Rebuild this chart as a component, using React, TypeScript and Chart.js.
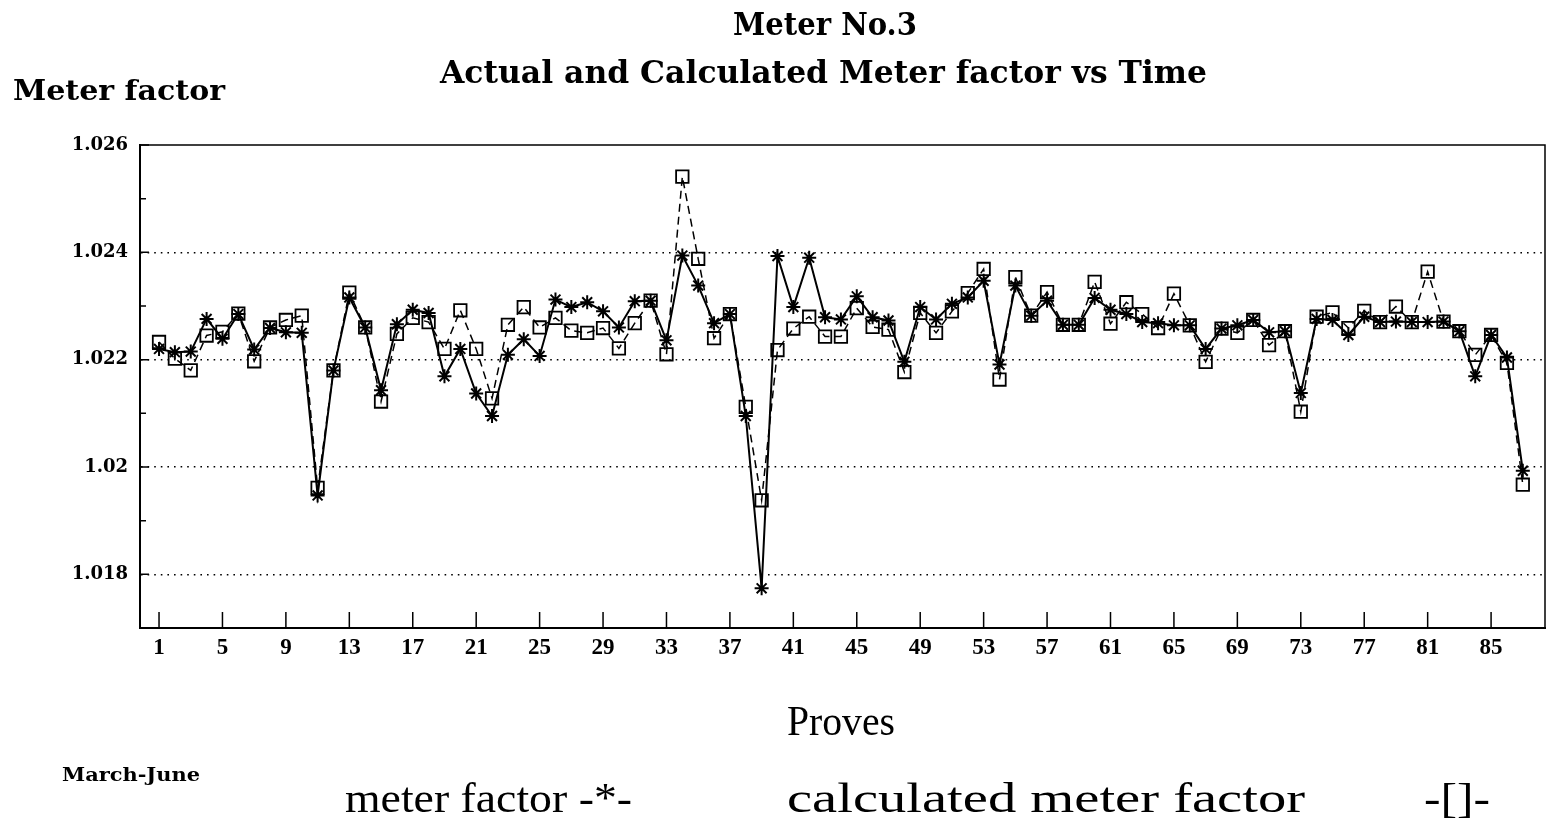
import React, { useEffect, useLayoutEffect, useRef } from "react";
import { Chart, registerables } from "chart.js";

Chart.register(...registerables);

// ---- data ----
const proves: number[] = Array.from({ length: 87 }, (_, i) => i + 1);

const meterFactor: number[] = [
  1.0222, 1.02214, 1.02215, 1.02276, 1.02239, 1.02285, 1.02219, 1.02259, 1.02251, 1.0225,
  1.01947, 1.0218, 1.02316, 1.0226, 1.02143, 1.02266, 1.02293, 1.02287, 1.02169, 1.0222,
  1.02137, 1.02095, 1.02209, 1.02238, 1.02207, 1.02312, 1.02298, 1.02307, 1.0229, 1.0226,
  1.02309, 1.0231, 1.02236, 1.02394, 1.02338, 1.02268, 1.02285, 1.02095, 1.01774, 1.02393,
  1.02298, 1.0239, 1.02279, 1.02275, 1.02318, 1.02279, 1.02273, 1.02196, 1.02298, 1.02275,
  1.02304, 1.02316, 1.02347, 1.02191, 1.02338, 1.02282, 1.0231, 1.02265, 1.02265, 1.02315,
  1.02293, 1.02285, 1.0227, 1.02268, 1.02264, 1.02264, 1.0222, 1.02258, 1.02264, 1.02274,
  1.02251, 1.02253, 1.02138, 1.02276, 1.02274, 1.02246, 1.0228, 1.0227, 1.02271, 1.0227,
  1.0227, 1.02271, 1.02253, 1.02169, 1.02246, 1.02204, 1.01993,
];

const calculatedFactor: number[] = [
  1.02233, 1.02202, 1.0218, 1.02245, 1.02252, 1.02286, 1.02197, 1.0226, 1.02274, 1.02282,
  1.01961, 1.0218, 1.02325, 1.0226, 1.02122, 1.02248, 1.02278, 1.0227, 1.0222, 1.02292,
  1.0222, 1.02128, 1.02265, 1.02298, 1.0226, 1.02278, 1.02254, 1.0225, 1.02259, 1.02221,
  1.02268, 1.0231, 1.0221, 1.02541, 1.02388, 1.0224, 1.02285, 1.02112, 1.01938, 1.02218,
  1.02258, 1.0228, 1.02243, 1.02243, 1.02296, 1.02261, 1.02256, 1.02177, 1.02287, 1.0225,
  1.0229, 1.02324, 1.02369, 1.02163, 1.02354, 1.02282, 1.02326, 1.02265, 1.02265, 1.02345,
  1.02267, 1.02307, 1.02285, 1.02259, 1.02323, 1.02264, 1.02196, 1.02258, 1.0225, 1.02274,
  1.02227, 1.02253, 1.02103, 1.0228, 1.02288, 1.02259, 1.02291, 1.0227, 1.02299, 1.0227,
  1.02364, 1.02271, 1.02253, 1.02209, 1.02246, 1.02194, 1.01967,
];

const xTickValues: number[] = [1, 5, 9, 13, 17, 21, 25, 29, 33, 37, 41, 45, 49, 53, 57, 61, 65, 69, 73, 77, 81, 85];
const yTickValues: number[] = [1.018, 1.02, 1.022, 1.024, 1.026];
const yMinorTicks: number[] = [1.019, 1.021, 1.023, 1.025];

const titleText = "Meter No.3";
const subtitleText = "Actual and Calculated Meter factor vs Time";
const yAxisTitle = "Meter factor";
const xAxisTitle = "Proves";
const periodText = "March-June";
const legendMeter = "meter factor -*-";
const legendCalc = "calculated meter factor  -[]-";

// ---- helpers ----
type FitProps = {
  text: string;
  left: number;
  baseline: number;
  width: number;
  size: number;
  family: string;
  weight?: string | number;
  ascent: number;
};

function FitText({ text, left, baseline, width, size, family, weight, ascent }: FitProps) {
  const ref = useRef<HTMLDivElement>(null);
  useLayoutEffect(() => {
    const fit = () => {
      const el = ref.current;
      if (!el) return;
      el.style.transform = "none";
      const w = el.getBoundingClientRect().width;
      if (w > 0) el.style.transform = `scaleX(${width / w})`;
    };
    fit();
    if ((document as any).fonts && (document as any).fonts.ready) {
      (document as any).fonts.ready.then(fit);
    }
  }, [text, width, size, family, weight]);
  return (
    <div
      ref={ref}
      style={{
        position: "absolute",
        left,
        top: baseline - ascent * size,
        fontSize: size,
        lineHeight: 1,
        fontFamily: family,
        fontWeight: weight as any,
        whiteSpace: "pre",
        transformOrigin: "left top",
        color: "#000",
      }}
    >
      {text}
    </div>
  );
}

const DEJAVU = "'DejaVu Serif', serif";
const LIBSERIF = "'Liberation Serif', serif";
const K_DEJAVU = 0.846;
const K_LIB = 0.8375;

const framePlugin = {
  id: "frameAndTicks",
  afterDatasetsDraw(chart: any) {
    const { ctx, chartArea } = chart;
    const { left, right, top, bottom } = chartArea;
    const xs = chart.scales.x;
    const ys = chart.scales.y;
    ctx.save();
    ctx.strokeStyle = "#000";
    ctx.setLineDash([]);
    ctx.lineWidth = 1.5;
    ctx.beginPath();
    ctx.moveTo(left, top);
    ctx.lineTo(right, top);
    ctx.lineTo(right, bottom);
    ctx.stroke();
    ctx.beginPath();
    yMinorTicks.forEach((v) => {
      const y = ys.getPixelForValue(v);
      ctx.moveTo(left, y);
      ctx.lineTo(left + 6, y);
    });
    yTickValues.forEach((v) => {
      const y = ys.getPixelForValue(v);
      ctx.moveTo(left, y);
      ctx.lineTo(left + 9, y);
    });
    ctx.stroke();
    ctx.beginPath();
    xTickValues.forEach((v) => {
      const x = xs.getPixelForValue(v);
      ctx.moveTo(x, bottom);
      ctx.lineTo(x, bottom - 16);
    });
    ctx.stroke();
    ctx.restore();
  },
};

export default function App() {
  const canvasRef = useRef<HTMLCanvasElement>(null);

  useEffect(() => {
    const canvas = canvasRef.current;
    if (!canvas) return;
    const chart = new Chart(canvas, {
      type: "line",
      data: {
        datasets: [
          {
            label: legendMeter,
            data: proves.map((p, i) => ({ x: p, y: meterFactor[i] })),
            borderColor: "#000",
            borderWidth: 2,
            pointStyle: "star",
            pointRadius: 7,
            pointBorderWidth: 2,
            pointBorderColor: "#000",
            pointBackgroundColor: "#000",
            fill: false,
            tension: 0,
          },
          {
            label: legendCalc,
            data: proves.map((p, i) => ({ x: p, y: calculatedFactor[i] })),
            borderColor: "#000",
            borderWidth: 1.5,
            borderDash: [8, 5],
            pointStyle: "rect",
            pointRadius: 8.8,
            pointBorderWidth: 1.8,
            pointBorderColor: "#000",
            pointBackgroundColor: "rgba(0,0,0,0)",
            fill: false,
            tension: 0,
          },
        ],
      },
      options: {
        animation: false,
        responsive: false,
        devicePixelRatio: 1,
        layout: { autoPadding: false, padding: { left: 0, top: 145, right: 4, bottom: 155 } },
        plugins: {
          legend: { display: false },
          title: { display: false },
          tooltip: { enabled: false },
        },
        scales: {
          x: {
            type: "linear",
            min: -0.2,
            max: 88.4,
            afterBuildTicks: (scale: any) => {
              scale.ticks = xTickValues.map((v) => ({ value: v }));
            },
            afterFit: (scale: any) => {
              scale.height = 40;
            },
            grid: { display: false, drawTicks: false },
            border: { display: true, color: "#000", width: 2 },
            ticks: {
              autoSkip: false,
              maxRotation: 0,
              padding: 6,
              color: "#000",
              font: { family: LIBSERIF, weight: "bold", size: 23 },
              callback: (v: any) => String(v),
            },
          },
          y: {
            type: "linear",
            min: 1.017,
            max: 1.026,
            afterBuildTicks: (scale: any) => {
              scale.ticks = yTickValues.map((v) => ({ value: v }));
            },
            afterFit: (scale: any) => {
              scale.width = 140;
            },
            grid: {
              display: true,
              drawTicks: false,
              lineWidth: 1.6,
              color: (c: any) => (c.tick && Math.abs(c.tick.value - 1.026) < 1e-9 ? "rgba(0,0,0,0)" : "#000"),
            },
            border: { display: true, color: "#000", width: 2, dash: [1.6, 5] },
            ticks: {
              padding: 12,
              color: "#000",
              font: { family: DEJAVU, weight: "bold", size: 18 },
              callback: (v: any) => String(v),
            },
          },
        },
      },
      plugins: [framePlugin],
    } as any);
    return () => chart.destroy();
  }, []);

  const calcParts = legendCalc.split("  ");

  return (
    <div
      style={{
        position: "fixed",
        left: 0,
        top: 0,
        width: 1549,
        height: 823,
        background: "#fff",
        overflow: "hidden",
      }}
    >
      <canvas ref={canvasRef} width={1549} height={823} style={{ position: "absolute", left: 0, top: 0, width: 1549, height: 823 }} />
      <FitText text={titleText} left={733} baseline={35} width={184} size={32} family={DEJAVU} weight="bold" ascent={K_DEJAVU} />
      <FitText text={subtitleText} left={440} baseline={83} width={767} size={32} family={DEJAVU} weight="bold" ascent={K_DEJAVU} />
      <FitText text={yAxisTitle} left={13} baseline={100} width={212} size={27} family={DEJAVU} weight="bold" ascent={K_DEJAVU} />
      <FitText text={xAxisTitle} left={787} baseline={735} width={108} size={42} family={LIBSERIF} weight="normal" ascent={K_LIB} />
      <FitText text={periodText} left={62} baseline={781} width={138} size={18} family={DEJAVU} weight="bold" ascent={K_DEJAVU} />
      <FitText text={legendMeter} left={345} baseline={812} width={287} size={42} family={LIBSERIF} weight="normal" ascent={K_LIB} />
      <FitText text={calcParts[0]} left={787} baseline={812} width={518} size={42} family={LIBSERIF} weight="normal" ascent={K_LIB} />
      <FitText text={calcParts[1]} left={1424} baseline={812} width={66} size={42} family={LIBSERIF} weight="normal" ascent={K_LIB} />
    </div>
  );
}
